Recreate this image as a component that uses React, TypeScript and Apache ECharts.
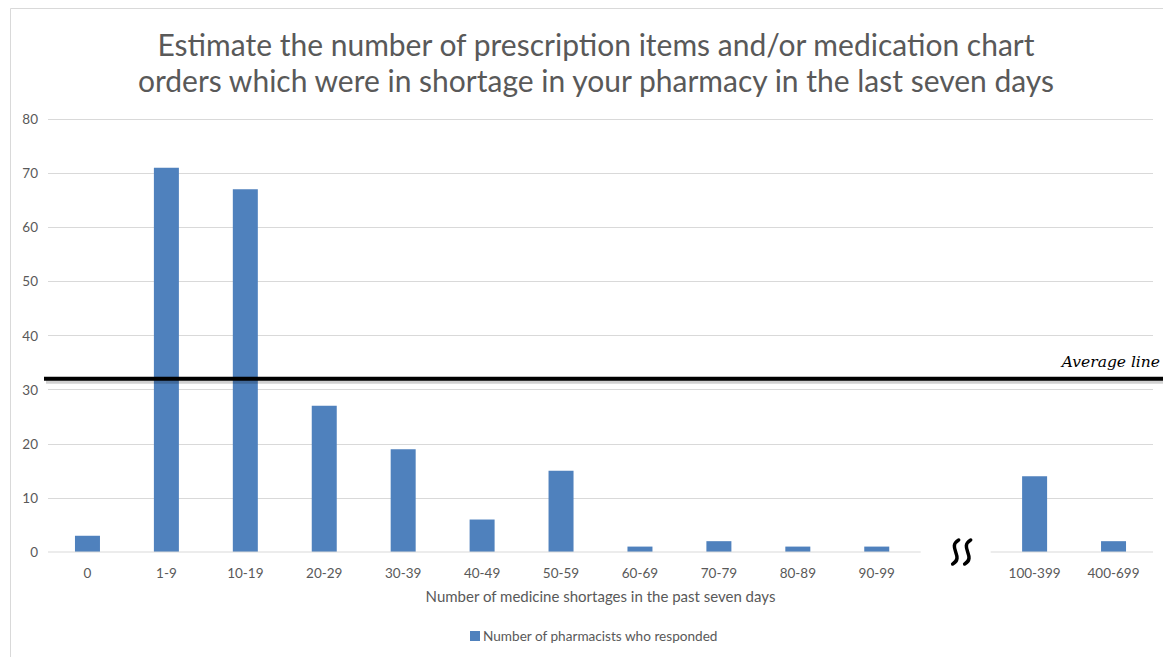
import React, { useEffect, useRef } from "react";
import * as echarts from "echarts";

// Bins of medicine shortages and how many pharmacists reported each
const categories = [
  "0", "1-9", "10-19", "20-29", "30-39", "40-49", "50-59",
  "60-69", "70-79", "80-89", "90-99", "", "100-399", "400-699",
];
const responded: (number | null)[] = [3, 71, 67, 27, 19, 6, 15, 1, 2, 1, 1, null, 14, 2];
const breakIndex = 11; // empty slot where the axis is broken
const averageValue = 32;

const yMin = 0;
const yMax = 80;
const yInterval = 10;

const titleText =
  "Estimate the number of prescription items and/or medication chart\norders which were in shortage in your pharmacy in the last seven days";
const xAxisName = "Number of medicine shortages in the past seven days";
const seriesName = "Number of pharmacists who responded";
const averageLabel = "Average line";

const FONT = "Lato, 'Open Sans', sans-serif";
const TEXT = "#595959";
const GRID = "#d9d9d9";
const BAR = "#4f81bd";

const GRID_LEFT = 48;
const GRID_RIGHT = 10;
const GRID_TOP = 119;
const GRID_BOTTOM = 105;

export default function App() {
  const ref = useRef<HTMLDivElement>(null);

  useEffect(() => {
    const el = ref.current!;
    const chart = echarts.init(el, null, { renderer: "svg" });
    // hide the split line at 0: the baseline is drawn separately, with a break
    const gridLines = Array.from({ length: (yMax - yMin) / yInterval + 1 }, (_, i) =>
      i === 0 ? "rgba(0,0,0,0)" : GRID
    );

    chart.setOption({
      animation: false,
      backgroundColor: "#ffffff",
      title: {
        text: titleText,
        left: 591,
        top: 21,
        textAlign: "center",
        textStyle: {
          fontFamily: FONT,
          fontSize: 30,
          lineHeight: 36,
          fontWeight: "normal",
          color: TEXT,
        },
      },
      legend: {
        bottom: 9,
        left: 465,
        icon: "rect",
        itemWidth: 10,
        itemHeight: 10,
        itemGap: 10,
        textStyle: { fontFamily: FONT, fontSize: 13.6, color: TEXT, padding: [0, 0, 0, -2] },
        data: [seriesName],
      },
      grid: {
        left: GRID_LEFT,
        right: GRID_RIGHT,
        top: GRID_TOP,
        bottom: GRID_BOTTOM,
        containLabel: false,
      },
      xAxis: {
        type: "category",
        data: categories,
        name: xAxisName,
        nameLocation: "middle",
        nameGap: 36,
        nameTextStyle: { fontFamily: FONT, fontSize: 15, color: TEXT },
        axisLine: { show: false },
        axisTick: { show: false },
        axisLabel: { fontFamily: FONT, fontSize: 13.5, color: TEXT, margin: 14, interval: 0 },
      },
      yAxis: {
        type: "value",
        min: yMin,
        max: yMax,
        interval: yInterval,
        axisLine: { show: false },
        axisTick: { show: false },
        axisLabel: { fontFamily: FONT, fontSize: 13.5, color: TEXT, margin: 10 },
        splitLine: { lineStyle: { color: gridLines, width: 1 } },
      },
      series: [
        {
          name: seriesName,
          type: "bar",
          data: responded,
          barWidth: 25,
          itemStyle: { color: BAR },
        },
      ],
    });

    // Overlays that depend on the axes' scales
    const y0 = chart.convertToPixel({ yAxisIndex: 0 }, 0) as number;
    const yAvg = chart.convertToPixel({ yAxisIndex: 0 }, averageValue) as number;
    const xBreak = chart.convertToPixel({ xAxisIndex: 0 }, breakIndex) as number;
    const width = el.clientWidth;
    const plotRight = width - GRID_RIGHT;
    const gapHalf = 35;
    const bx = xBreak + 6;

    const wave = (cx: number) => ({
      type: "bezierCurve",
      shape: {
        x1: cx + 3, y1: y0 - 12,
        cpx1: cx - 9, cpy1: y0 - 5,
        cpx2: cx + 9, cpy2: y0 + 5,
        x2: cx - 3, y2: y0 + 12,
      },
      style: { stroke: "#000", lineWidth: 3.5, fill: "none", lineCap: "round" },
      z: 100,
    });

    chart.setOption({
      graphic: [
        {
          type: "rect",
          shape: { x: 10.5, y: 8.5, width: width + 20, height: 700 },
          style: { stroke: GRID, fill: "none", lineWidth: 1 },
          silent: true,
          z: -1,
        },
        {
          type: "line",
          shape: { x1: GRID_LEFT, y1: y0, x2: xBreak - gapHalf, y2: y0 },
          style: { stroke: GRID, lineWidth: 1 },
          z: 50,
        },
        {
          type: "line",
          shape: { x1: xBreak + gapHalf, y1: y0, x2: plotRight, y2: y0 },
          style: { stroke: GRID, lineWidth: 1 },
          z: 50,
        },
        wave(bx - 6),
        wave(bx + 6),
        // soft shadow under the average line
        {
          type: "line",
          shape: { x1: 46, y1: yAvg + 3, x2: width, y2: yAvg + 3 },
          style: { stroke: "rgba(0,0,0,0.18)", lineWidth: 4 },
          z: 99,
        },
        {
          type: "line",
          shape: { x1: 44, y1: yAvg, x2: width, y2: yAvg },
          style: { stroke: "#000", lineWidth: 4 },
          z: 100,
        },
        {
          type: "text",
          x: width - 3,
          y: yAvg - 17,
          style: {
            text: averageLabel,
            fontFamily: "'DejaVu Serif', serif",
            fontStyle: "italic",
            fontSize: 15.5,
            fill: "#000",
            align: "right",
            verticalAlign: "middle",
          },
          z: 100,
        },
      ],
    });

    return () => chart.dispose();
  }, []);

  return (
    <div
      ref={ref}
      style={{ position: "fixed", left: 0, top: 0, width: 1163, height: 657 }}
    />
  );
}
